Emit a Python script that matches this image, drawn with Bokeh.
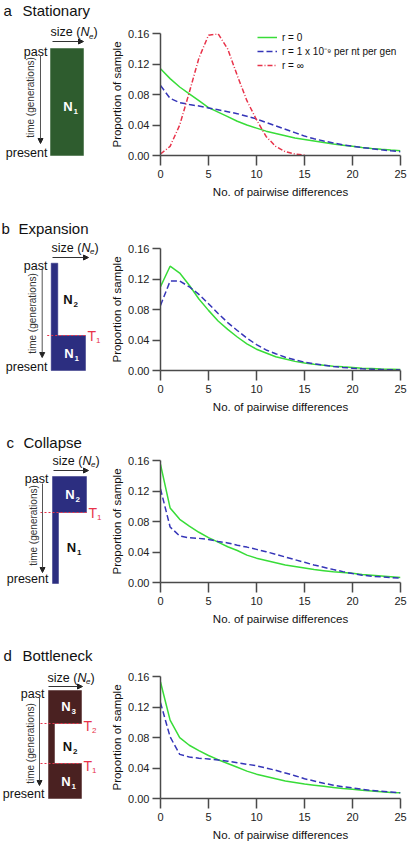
import math
from bokeh.plotting import figure
from bokeh.layouts import column, row
from bokeh.models import (Range1d, FixedTicker, NumeralTickFormatter, Legend,
                          LegendItem, Arrow, NormalHead)
from bokeh.embed import file_html
from bokeh.resources import INLINE
from bokeh.core.properties import value

FONT = "Liberation Sans"

# ---------------- data ----------------
diffs = list(range(26))
diffs_inf = list(range(16))

# a  Stationary
stat_r0 = [0.114, 0.101, 0.090, 0.081, 0.072, 0.063, 0.057, 0.051, 0.045, 0.040,
           0.036, 0.032, 0.029, 0.026, 0.023, 0.021, 0.019, 0.017, 0.015, 0.0135,
           0.012, 0.0105, 0.0093, 0.0082, 0.0072, 0.0063]
stat_r1e9 = [0.092, 0.075, 0.0695, 0.067, 0.065, 0.0625, 0.060, 0.0575, 0.055, 0.0515,
             0.048, 0.0435, 0.039, 0.0345, 0.030, 0.0255, 0.022, 0.019, 0.0165, 0.014,
             0.0122, 0.0105, 0.009, 0.0075, 0.0062, 0.005]
stat_rinf = [0.002, 0.012, 0.040, 0.083, 0.128, 0.158, 0.160, 0.140, 0.105, 0.072,
             0.047, 0.025, 0.012, 0.005, 0.002, 0.0005]

# b  Expansion
exp_r0 = [0.110, 0.137, 0.128, 0.112, 0.094, 0.079, 0.065, 0.054, 0.044, 0.035,
          0.028, 0.023, 0.018, 0.015, 0.012, 0.010, 0.0083, 0.007, 0.0057, 0.0048,
          0.004, 0.003, 0.0026, 0.002, 0.0017, 0.0013]
exp_r1e9 = [0.0855, 0.1175, 0.1175, 0.110, 0.100, 0.0877, 0.075, 0.063, 0.0526, 0.0425,
            0.034, 0.027, 0.022, 0.0175, 0.014, 0.011, 0.0088, 0.007, 0.0053, 0.004,
            0.003, 0.0022, 0.0018, 0.0013, 0.0009, 0.0008]

# c  Collapse
col_r0 = [0.155, 0.098, 0.083, 0.074, 0.066, 0.059, 0.053, 0.047, 0.042, 0.036,
          0.032, 0.029, 0.026, 0.023, 0.021, 0.019, 0.017, 0.0155, 0.014, 0.013,
          0.012, 0.0105, 0.0095, 0.0085, 0.0075, 0.0065]
col_r1e9 = [0.123, 0.073, 0.061, 0.0587, 0.058, 0.0565, 0.054, 0.052, 0.049, 0.0465,
            0.0435, 0.0405, 0.037, 0.0335, 0.030, 0.0265, 0.023, 0.020, 0.017, 0.0143,
            0.0117, 0.0096, 0.0083, 0.0074, 0.0065, 0.0057]

# d  Bottleneck
bot_r0 = [0.153, 0.103, 0.080, 0.070, 0.063, 0.0565, 0.051, 0.046, 0.041, 0.036,
          0.032, 0.029, 0.026, 0.023, 0.021, 0.019, 0.0175, 0.016, 0.0145, 0.013,
          0.012, 0.011, 0.010, 0.009, 0.008, 0.0075]
bot_r1e9 = [0.126, 0.081, 0.058, 0.0545, 0.053, 0.052, 0.0505, 0.049, 0.047, 0.045,
            0.043, 0.040, 0.037, 0.0335, 0.030, 0.026, 0.023, 0.020, 0.0175, 0.0155,
            0.014, 0.012, 0.0105, 0.0095, 0.0085, 0.0075]

x_ticks = [0, 5, 10, 15, 20, 25]
y_ticks = [0.0, 0.04, 0.08, 0.12, 0.16]
legend_labels = ["r = 0", "r = 1 x 10\u207b\u2079 per nt per gen", "r = \u221e"]
x_label = "No. of pairwise differences"
y_label = "Proportion of sample"
panel_letters = ["a", "b", "c", "d"]
panel_titles = ["Stationary", "Expansion", "Collapse", "Bottleneck"]

# ---------------- styles ----------------
GREEN = "#38dc38"
BLUE = "#3535b8"
RED = "#e8334a"
AXIS = "#4a4a4a"
NAVY = "#2c2e80"

# ---------------- schematic specs (reference pixel geometry) ----------------
panels = [
    dict(top=0, T=33, B=60, color="#2e5c2e",
         shape=[(50, 48), (83, 48), (83, 155), (50, 155)],
         red=[], tl=[], nl=[("1", 67.5, 106, "white")],
         letter_x=3, title_y=10, word_x=22, size_y=31.7, size_x=50, arr_y=41, arr_x=(52, 83),
         past=(47, 51), present=(47, 152), time_x=40, time_y=(55, 143), time_t=(30, 97)),
    dict(top=215, T=33, B=58, color=NAVY,
         shape=[(50.7, 262.7), (57.3, 262.7), (57.3, 335), (85, 335), (85, 370), (50.7, 370)],
         red=[(46.7, 85, 335)], tl=[("1", 87, 335)],
         nl=[("2", 67.5, 299, "#111111"), ("1", 68.5, 353, "white")],
         letter_x=1, title_y=228, word_x=18, size_y=247, size_x=51, arr_y=257, arr_x=(52, 88),
         past=(47, 265), present=(47, 366), time_x=41.7, time_y=(268, 357), time_t=(32, 313)),
    dict(top=428, T=32, B=61, color=NAVY,
         shape=[(52, 476), (86, 476), (86, 512), (58, 512), (58, 583), (52, 583)],
         red=[(40, 86, 512)], tl=[("1", 88, 512)],
         nl=[("2", 69.5, 494, "white"), ("1", 71, 547, "#111111")],
         letter_x=6, title_y=442, word_x=23, size_y=460, size_x=52, arr_y=470, arr_x=(53, 88),
         past=(48, 478), present=(48, 578), time_x=42, time_y=(483, 572), time_t=(33, 525)),
    dict(top=643, T=33, B=47, color="#4a2121",
         shape=[(48, 690), (81, 690), (81, 723), (54, 723), (54, 763), (81, 763), (81, 798), (48, 798)],
         red=[(40, 81, 723), (40, 81, 763)], tl=[("2", 83, 725), ("1", 83, 765)],
         nl=[("3", 65.5, 706, "white"), ("2", 67, 746, "#111111"), ("1", 65.5, 781, "white")],
         letter_x=3, title_y=655, word_x=22, size_y=677, size_x=47, arr_y=686, arr_x=(48, 82),
         past=(44, 693), present=(44, 793), time_x=39, time_y=(697, 785), time_t=(30, 743)),
]

FRAME_H = 122
DIAG_W = 108
CHART_W = 300


def make_diagram(i, spec):
    h = spec["T"] + FRAME_H + spec["B"]
    fx = lambda x: x
    fy = lambda y: y - spec["top"]
    d = figure(width=DIAG_W, height=h, x_range=Range1d(0, DIAG_W), y_range=Range1d(h, 0),
               output_backend="svg", toolbar_location=None, min_border=0,
               x_axis_type=None, y_axis_type=None, frame_align=False)
    d.grid.visible = False
    d.outline_line_color = None
    # title
    d.text(x=[fx(spec["letter_x"])], y=[fy(spec["title_y"])], text=[panel_letters[i]],
           text_font=value(FONT), text_font_size="15px", text_align="left",
           text_baseline="middle", text_color="#111111")
    d.text(x=[fx(spec["word_x"])], y=[fy(spec["title_y"])], text=[panel_titles[i]],
           text_font=value(FONT), text_font_size="15px", text_align="left",
           text_baseline="middle", text_color="#111111")
    # shape
    xs = [fx(p[0]) for p in spec["shape"]]
    ys = [fy(p[1]) for p in spec["shape"]]
    d.patch(xs, ys, fill_color=spec["color"], line_color=spec["color"], line_width=0.5)
    # red dashed boundaries
    for (x0, x1, yy) in spec["red"]:
        d.line([fx(x0), fx(x1)], [fy(yy), fy(yy)], line_color=RED, line_dash="2 2", line_width=1)
    for (sub, xx, yy) in spec["tl"]:
        d.text(x=[fx(xx)], y=[fy(yy)], text=["T"], text_font=value(FONT), text_font_size="14px",
               text_align="left", text_baseline="middle", text_color=RED)
        d.text(x=[fx(xx) + 8.5], y=[fy(yy) + 5], text=[sub], text_font=value(FONT),
               text_font_size="8px", text_align="left", text_baseline="middle", text_color=RED)
    # N labels
    for (sub, xx, yy, c) in spec["nl"]:
        d.text(x=[fx(xx)], y=[fy(yy)], text=["N"], text_font=value(FONT), text_font_size="13px",
               text_font_style="bold", text_align="center", text_baseline="middle", text_color=c)
        d.text(x=[fx(xx) + 5.5], y=[fy(yy) + 4.5], text=[sub], text_font=value(FONT),
               text_font_size="8px", text_font_style="bold", text_align="left",
               text_baseline="middle", text_color=c)
    # size (Ne)
    sx, sy = fx(spec["size_x"]), fy(spec["size_y"])
    d.text(x=[sx], y=[sy], text=["size ("], text_font=value(FONT), text_font_size="12.5px",
           text_align="left", text_baseline="middle", text_color="#111111")
    d.text(x=[sx + 30], y=[sy], text=["N"], text_font=value(FONT), text_font_size="12.5px",
           text_font_style="italic", text_align="left", text_baseline="middle", text_color="#111111")
    d.text(x=[sx + 38.5], y=[sy + 4], text=["e"], text_font=value(FONT), text_font_size="8px",
           text_font_style="italic", text_align="left", text_baseline="middle", text_color="#111111")
    d.text(x=[sx + 43], y=[sy], text=[")"], text_font=value(FONT), text_font_size="12.5px",
           text_align="left", text_baseline="middle", text_color="#111111")
    d.add_layout(Arrow(end=NormalHead(size=5, fill_color="#222222", line_color="#222222"),
                       x_start=fx(spec["arr_x"][0]), x_end=fx(spec["arr_x"][1]),
                       y_start=fy(spec["arr_y"]), y_end=fy(spec["arr_y"]),
                       line_color="#333333", line_width=1))
    # past / present
    d.text(x=[fx(spec["past"][0]), fx(spec["present"][0])],
           y=[fy(spec["past"][1]), fy(spec["present"][1])], text=["past", "present"],
           text_font=value(FONT), text_font_size="12.5px", text_align="right",
           text_baseline="middle", text_color="#111111")
    # time arrow
    d.add_layout(Arrow(end=NormalHead(size=5, fill_color="#222222", line_color="#222222"),
                       x_start=fx(spec["time_x"]), x_end=fx(spec["time_x"]),
                       y_start=fy(spec["time_y"][0]), y_end=fy(spec["time_y"][1]),
                       line_color="#555555", line_width=1))
    d.text(x=[fx(spec["time_t"][0])], y=[fy(spec["time_t"][1])], text=["time (generations)"],
           text_font=value(FONT), text_font_size="10px", text_align="center",
           text_baseline="middle", angle=math.pi / 2, text_color="#333333")
    return d


def make_chart(i, spec, series):
    h = spec["T"] + FRAME_H + spec["B"]
    p = figure(width=CHART_W, height=h, x_range=Range1d(0, 25), y_range=Range1d(0, 0.1603),
               output_backend="svg", toolbar_location=None,
               min_border_left=52, min_border_right=8,
               min_border_top=spec["T"], min_border_bottom=spec["B"], frame_align=False)
    p.grid.visible = False
    p.outline_line_color = None
    p.xaxis.ticker = FixedTicker(ticks=x_ticks)
    p.yaxis.ticker = FixedTicker(ticks=y_ticks)
    p.yaxis.formatter = NumeralTickFormatter(format="0.00")
    for ax in (p.xaxis, p.yaxis):
        ax.axis_line_color = AXIS
        ax.axis_line_width = 1.5
        ax.major_tick_line_color = AXIS
        ax.major_tick_line_width = 1.5
        ax.major_tick_in = 0
        ax.minor_tick_out = 0
        ax.minor_tick_in = 0
        ax.major_label_text_font = FONT
        ax.major_label_text_font_size = "11px"
        ax.major_label_text_color = "#222222"
        ax.axis_label_text_font = FONT
        ax.axis_label_text_font_size = "11.5px"
        ax.axis_label_text_font_style = "normal"
        ax.axis_label_text_color = "#111111"
    p.xaxis.major_label_standoff = 4
    p.yaxis.major_label_standoff = 3
    p.xaxis.major_tick_out = 10
    p.yaxis.major_tick_out = 8
    p.xaxis.axis_label = x_label
    p.yaxis.axis_label = y_label
    p.xaxis.axis_label_standoff = 5
    p.yaxis.axis_label_standoff = 2

    renderers = []
    for (xs, ys, color, dash) in series:
        r = p.line(xs, ys, line_color=color, line_width=1.5, line_dash=dash)
        renderers.append(r)
    if i == 0:
        legend = Legend(items=[LegendItem(label=lab, renderers=[r])
                               for lab, r in zip(legend_labels, renderers)],
                        location=(97, 83), background_fill_alpha=0, border_line_color=None,
                        glyph_width=20, glyph_height=14, label_height=14, spacing=0,
                        padding=0, margin=0, label_standoff=5,
                        label_text_font=FONT, label_text_font_size="10px",
                        label_text_color="#111111")
        p.add_layout(legend)
    return p


series_all = [
    [(diffs, stat_r0, GREEN, "solid"), (diffs, stat_r1e9, BLUE, "6 3"),
     (diffs_inf, stat_rinf, RED, "5 2 1 2")],
    [(diffs, exp_r0, GREEN, "solid"), (diffs, exp_r1e9, BLUE, "6 3")],
    [(diffs, col_r0, GREEN, "solid"), (diffs, col_r1e9, BLUE, "6 3")],
    [(diffs, bot_r0, GREEN, "solid"), (diffs, bot_r1e9, BLUE, "6 3")],
]

rows = []
for i, spec in enumerate(panels):
    rows.append(row(make_diagram(i, spec), make_chart(i, spec, series_all[i]), spacing=0))
layout = column(*rows, spacing=0)

open("out.html", "w").write(file_html(layout, INLINE))
